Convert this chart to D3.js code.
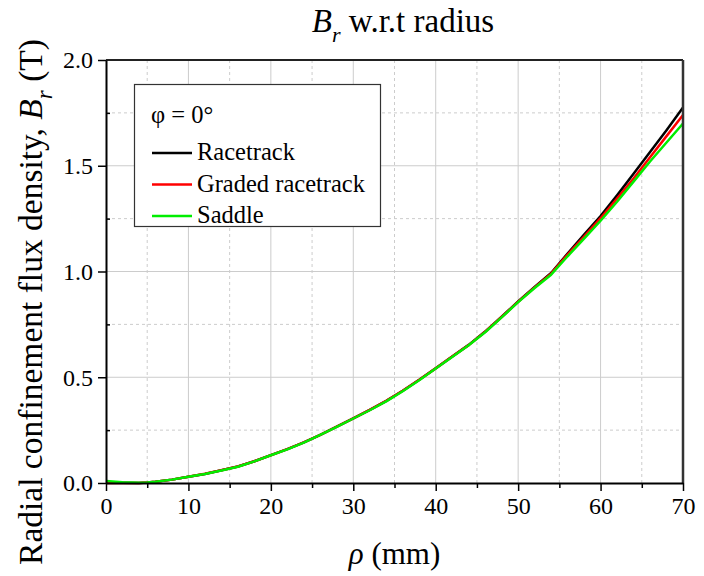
<!DOCTYPE html>
<html>
<head>
<meta charset="utf-8">
<script src="https://cdn.jsdelivr.net/npm/d3@7"></script>
<style>
  body { margin: 0; background: #fff; }
  svg text { font-family: "Liberation Serif", "Times New Roman", serif; fill: #000; }
</style>
</head>
<body>
<script>
// data
const rho = [0, 2, 4, 5, 6, 8, 10, 12, 14, 16, 18, 20, 22, 24, 26, 28, 30, 32, 34, 36, 38, 40,
             42, 44, 46, 48, 50, 52, 54, 56, 58, 60, 62, 64, 66, 68, 70];
const racetrack = [0.003, 0.001, 0.0, 0.002, 0.006, 0.016, 0.03, 0.043, 0.06, 0.078, 0.103, 0.132,
                   0.16, 0.192, 0.228, 0.266, 0.306, 0.346, 0.388, 0.436, 0.488, 0.543, 0.598, 0.653,
                   0.716, 0.786, 0.858, 0.927, 0.993, 1.085, 1.175, 1.262, 1.36, 1.462, 1.565, 1.668, 1.775];
const graded = [0.0, 0.0, 0.0, 0.002, 0.006, 0.016, 0.03, 0.044, 0.06, 0.078, 0.103, 0.131,
                0.16, 0.192, 0.228, 0.266, 0.306, 0.346, 0.388, 0.436, 0.488, 0.542, 0.598, 0.652,
                0.715, 0.785, 0.857, 0.925, 0.99, 1.08, 1.165, 1.252, 1.345, 1.44, 1.54, 1.64, 1.74];
const saddle = [0.01, 0.004, 0.001, 0.002, 0.006, 0.016, 0.03, 0.043, 0.059, 0.077, 0.102, 0.131,
                0.159, 0.191, 0.227, 0.265, 0.305, 0.344, 0.386, 0.434, 0.486, 0.541, 0.596, 0.651,
                0.713, 0.783, 0.855, 0.922, 0.985, 1.072, 1.155, 1.24, 1.33, 1.425, 1.52, 1.61, 1.70];
const xTicks = [0, 10, 20, 30, 40, 50, 60, 70];
const xMinor = [5, 15, 25, 35, 45, 55, 65];
const yTicks = [0.0, 0.5, 1.0, 1.5, 2.0];
const yMinor = [0.25, 0.75, 1.25, 1.75];
const seriesNames = ["Racetrack", "Graded racetrack", "Saddle"];
const seriesColors = ["#000000", "#ff0000", "#00ee00"];

const width = 704, height = 576;
const margin = { left: 106, right: 21, top: 60, bottom: 93 };
const serif = "'Liberation Serif', 'Times New Roman', serif";

const svg = d3.select("body").append("svg")
    .attr("width", width)
    .attr("height", height);

const x = d3.scaleLinear().domain([0, 70]).range([margin.left, width - margin.right]);
const y = d3.scaleLinear().domain([0, 2]).range([height - margin.bottom, margin.top]);

// grid
const grid = svg.append("g");
grid.selectAll(".gx").data(xTicks.slice(1, -1)).enter().append("line")
    .attr("x1", d => x(d)).attr("x2", d => x(d))
    .attr("y1", y(0)).attr("y2", y(2))
    .attr("stroke", "#cccccc").attr("stroke-width", 1);
grid.selectAll(".gxm").data(xMinor).enter().append("line")
    .attr("x1", d => x(d)).attr("x2", d => x(d))
    .attr("y1", y(0)).attr("y2", y(2))
    .attr("stroke", "#cccccc").attr("stroke-width", 1).attr("stroke-dasharray", "3,3");
grid.selectAll(".gy").data(yTicks.slice(1, -1)).enter().append("line")
    .attr("x1", x(0)).attr("x2", x(70))
    .attr("y1", d => y(d)).attr("y2", d => y(d))
    .attr("stroke", "#cccccc").attr("stroke-width", 1);
grid.selectAll(".gym").data(yMinor).enter().append("line")
    .attr("x1", x(0)).attr("x2", x(70))
    .attr("y1", d => y(d)).attr("y2", d => y(d))
    .attr("stroke", "#cccccc").attr("stroke-width", 1).attr("stroke-dasharray", "3,3");

// curves
const series = [racetrack, graded, saddle];
const line = d3.line().x((d, i) => x(rho[i])).y(d => y(d));
svg.append("g").selectAll("path").data(series).enter().append("path")
    .attr("d", d => line(d))
    .attr("fill", "none")
    .attr("stroke", (d, i) => seriesColors[i])
    .attr("stroke-width", 2.5)
    .attr("stroke-linejoin", "round");

// frame (top and right)
svg.append("line").attr("x1", x(0)).attr("x2", x(70)).attr("y1", y(2)).attr("y2", y(2))
    .attr("stroke", "#222").attr("stroke-width", 2);
svg.append("line").attr("x1", x(70)).attr("x2", x(70)).attr("y1", y(2)).attr("y2", y(0))
    .attr("stroke", "#333").attr("stroke-width", 2.5);

// axes
const xAxis = svg.append("g").attr("transform", `translate(0,${y(0)})`)
    .call(d3.axisBottom(x).tickValues(xTicks).tickFormat(d3.format("d")).tickSize(8).tickSizeOuter(0));
xAxis.selectAll(".tick text").attr("y", 31).attr("dy", null);
svg.append("g").attr("transform", `translate(0,${y(0)})`)
    .call(d3.axisBottom(x).tickValues(xMinor).tickFormat("").tickSize(5).tickSizeOuter(0))
    .select(".domain").remove();

const yAxis = svg.append("g").attr("transform", `translate(${x(0)},0)`)
    .call(d3.axisLeft(y).tickValues(yTicks).tickFormat(d3.format(".1f")).tickSize(8).tickSizeOuter(0));
yAxis.selectAll(".tick text").attr("x", -13).attr("dy", "0.33em");
svg.append("g").attr("transform", `translate(${x(0)},0)`)
    .call(d3.axisRight(y).tickValues(yMinor).tickFormat("").tickSize(4).tickSizeOuter(0))
    .select(".domain").remove();

svg.selectAll(".domain").attr("stroke", "#000").attr("stroke-width", 2);
svg.selectAll(".tick line").attr("stroke", "#000").attr("stroke-width", 1.5);
svg.selectAll(".tick text").style("font-family", serif).style("font-size", "24px");

// title
const title = svg.append("text").attr("x", 403).attr("y", 32)
    .attr("text-anchor", "middle").style("font-family", serif).style("font-size", "33px");
title.append("tspan").attr("font-style", "italic").text("B");
title.append("tspan").attr("font-style", "italic").style("font-size", "22px").attr("dy", 10).text("r");
title.append("tspan").attr("dy", -10).text(" w.r.t radius");

// axis titles
const xt = svg.append("text").attr("x", x(35)).attr("y", 564)
    .attr("text-anchor", "middle").style("font-family", serif).style("font-size", "31px");
xt.append("tspan").attr("font-style", "italic").text("ρ");
xt.append("tspan").text(" (mm)");

const yt = svg.append("text")
    .attr("transform", `translate(42,302) rotate(-90)`)
    .attr("text-anchor", "middle").style("font-family", serif).style("font-size", "33.5px");
yt.append("tspan").text("Radial confinement flux density, ");
yt.append("tspan").attr("font-style", "italic").text("B");
yt.append("tspan").attr("font-style", "italic").style("font-size", "23px").attr("dy", 10).text("r");
yt.append("tspan").attr("dy", -10).text(" (T)");

// legend
const legend = svg.append("g");
legend.append("rect").attr("x", 134.5).attr("y", 84.5).attr("width", 246).attr("height", 142)
    .attr("fill", "#fff").attr("stroke", "#333").attr("stroke-width", 1.2);
legend.append("text").attr("x", 151).attr("y", 123)
    .style("font-family", serif).style("font-size", "24.5px").text("φ = 0°");
const items = legend.selectAll(".item").data(seriesNames).enter().append("g")
    .attr("transform", (d, i) => `translate(0,${153 + i * 31.5})`);
items.append("line").attr("x1", 152).attr("x2", 192)
    .attr("stroke", (d, i) => seriesColors[i]).attr("stroke-width", 2.5);
items.append("text").attr("x", 197).attr("y", 7)
    .style("font-family", serif).style("font-size", "24.5px").text(d => d);
</script>
</body>
</html>
